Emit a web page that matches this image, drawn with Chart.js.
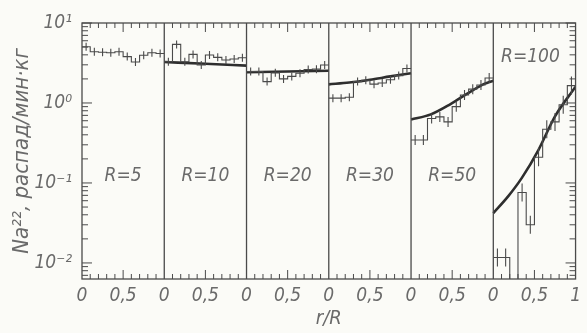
<!DOCTYPE html>
<html>
<head>
<meta charset="utf-8">
<script src="https://cdn.jsdelivr.net/npm/chart.js@4.4.0/dist/chart.umd.min.js"></script>
<style>
  html, body { margin: 0; padding: 0; background: #fbfbf7; }
  #wrap { width: 587px; height: 333px; }
</style>
</head>
<body>
<div id="wrap"><canvas id="chart"></canvas></div>
<script>
// six panels side by side, each r/R from 0 to 1 in ten bins
const panelNames = ['R=5', 'R=10', 'R=20', 'R=30', 'R=50', 'R=100'];
const binEdges = [0, 0.1, 0.2, 0.3, 0.4, 0.5, 0.6, 0.7, 0.8, 0.9, 1.0];

// measured histograms (one value per bin)
const hist5   = [5.05, 4.38, 4.30, 4.25, 4.38, 3.80, 3.25, 3.95, 4.25, 4.15];
const hist10  = [3.28, 5.40, 3.28, 4.05, 2.98, 3.98, 3.72, 3.45, 3.55, 3.68];
const hist20  = [2.48, 2.48, 1.85, 2.38, 2.00, 2.15, 2.35, 2.62, 2.65, 2.98];
const hist30  = [1.15, 1.15, 1.18, 1.85, 1.92, 1.72, 1.78, 1.95, 2.20, 2.70];
const hist50  = [0.345, 0.345, 0.64, 0.67, 0.58, 0.90, 1.26, 1.49, 1.68, 2.05];
const hist100 = [0.0117, 0.0117, 0.002, 0.076, 0.030, 0.21, 0.47, 0.58, 0.95, 1.65];

// calculated curves (r/R, value); R=5 has none
const curveR10  = [0, 0.5, 1];
const curve10   = [3.25, 3.10, 2.93];
const curveR20  = [0, 0.5, 1];
const curve20   = [2.42, 2.47, 2.53];
const curveR30  = [0, 0.25, 0.5, 0.75, 1];
const curve30   = [1.71, 1.80, 1.95, 2.15, 2.35];
const curveR50  = [0, 0.24, 0.48, 0.72, 0.89, 1];
const curve50   = [0.62, 0.72, 0.97, 1.38, 1.73, 1.90];
const curveR100 = [0, 0.18, 0.345, 0.55, 0.75, 1];
const curve100  = [0.042, 0.068, 0.115, 0.26, 0.68, 1.60];

const hists = [hist5, hist10, hist20, hist30, hist50, hist100];
const curves = [null, [curveR10, curve10], [curveR20, curve20], [curveR30, curve30], [curveR50, curve50], [curveR100, curve100]];

const yTickText = { '10': '10¹', '1': '10⁰', '0.1': '10⁻¹', '0.01': '10⁻²' };

const ink = '#4a4a4a';
const textCol = '#6a6a6a';
const fontFam = "'Liberation Sans Narrow', 'DejaVu Sans Condensed', sans-serif";

const datasets = [];
hists.forEach((h, p) => {
  const pts = h.map((v, i) => ({ x: p + binEdges[i], y: v }));
  pts.push({ x: p + 1, y: h[h.length - 1] });
  datasets.push({
    data: pts, stepped: true, borderColor: ink, borderWidth: 1.1,
    pointRadius: 0, fill: false
  });
  // error bars at bin centres
  datasets.push({
    data: h.map((v, i) => ({ x: p + (binEdges[i] + binEdges[i + 1]) / 2, y: v })),
    showLine: false, pointStyle: 'line', rotation: 90,
    pointRadius: p === 5 ? 9 : (p === 4 ? 5 : 4),
    borderColor: ink, borderWidth: 1.1, pointBorderWidth: 1.1
  });
  if (curves[p]) {
    const [rs, vs] = curves[p];
    datasets.push({
      data: rs.map((r, i) => ({ x: p + r, y: vs[i] })),
      borderColor: '#2e2e2e', borderWidth: 2.6, pointRadius: 0,
      cubicInterpolationMode: 'monotone', fill: false
    });
  }
});

const frame = {
  id: 'frame',
  afterDatasetsDraw(chart) {
    const { ctx, chartArea: a, scales: { x, y } } = chart;
    ctx.save();
    ctx.strokeStyle = ink;
    ctx.lineWidth = 1.3;
    ctx.strokeRect(a.left, a.top, a.right - a.left, a.bottom - a.top);
    ctx.beginPath();
    for (let p = 1; p < panelNames.length; p++) {
      const px = x.getPixelForValue(p);
      ctx.moveTo(px, a.top); ctx.lineTo(px, a.bottom);
    }
    ctx.stroke();

    // inward ticks on top and bottom
    ctx.lineWidth = 1;
    ctx.beginPath();
    for (let k = 1; k < 60; k++) {
      if (k % 10 === 0) continue;
      const px = x.getPixelForValue(k / 10);
      const len = k % 10 === 5 ? 9 : 5;
      ctx.moveTo(px, a.bottom); ctx.lineTo(px, a.bottom - len);
      ctx.moveTo(px, a.top); ctx.lineTo(px, a.top + len);
    }
    // inward ticks on left and right (log)
    for (let e = -3; e <= 1; e++) {
      for (let m = 1; m <= 9; m++) {
        const v = m * Math.pow(10, e);
        if (v < y.min || v > y.max) continue;
        const py = y.getPixelForValue(v);
        const len = m === 1 ? 10 : 6;
        ctx.moveTo(a.left, py); ctx.lineTo(a.left + len, py);
        ctx.moveTo(a.right, py); ctx.lineTo(a.right - len, py);
      }
    }
    ctx.stroke();

    // panel captions
    ctx.fillStyle = textCol;
    ctx.font = 'italic 19px ' + fontFam;
    ctx.textAlign = 'center';
    ctx.textBaseline = 'middle';
    panelNames.forEach((name, p) => {
      const cx = x.getPixelForValue(p + 0.5) - (p === 5 ? 4 : 0);
      const cy = p === 5 ? 57 : 176;
      ctx.fillText(name, cx, cy);
    });
    ctx.restore();
  }
};

new Chart(document.getElementById('chart'), {
  type: 'line',
  data: { datasets },
  plugins: [frame],
  options: {
    responsive: true,
    maintainAspectRatio: false,
    animation: false,
    layout: { padding: { top: 23, right: 11, left: 0, bottom: 0 } },
    plugins: { legend: { display: false }, tooltip: { enabled: false } },
    scales: {
      x: {
        type: 'linear', min: 0, max: 6,
        grid: { display: false, drawTicks: false },
        border: { display: false },
        afterFit: s => { s.height = 54; },
        ticks: {
          stepSize: 0.5, autoSkip: false, maxRotation: 0, padding: 6,
          color: textCol, font: { family: fontFam, size: 19, style: 'italic' },
          callback: v => v === 6 ? '1' : (Math.abs(v % 1 - 0.5) < 1e-6 ? '0,5' : '0')
        },
        title: {
          display: true, text: 'r/R', color: textCol, padding: { top: 0, bottom: 2 },
          font: { family: fontFam, size: 20, style: 'italic' }
        }
      },
      y: {
        type: 'logarithmic', min: 0.0063, max: 10,
        grid: { display: false, drawTicks: false },
        border: { display: false },
        afterFit: s => { s.width = 82; },
        ticks: {
          autoSkip: false, padding: 10, color: textCol,
          font: { family: fontFam, size: 19, style: 'italic' },
          callback: v => yTickText[String(v)] || ''
        },
        title: {
          display: true, text: 'Na²², распад/мин·кг', color: textCol,
          padding: { top: 9, bottom: 0 },
          font: { family: fontFam, size: 22, style: 'italic' }
        }
      }
    }
  }
});
</script>
</body>
</html>
